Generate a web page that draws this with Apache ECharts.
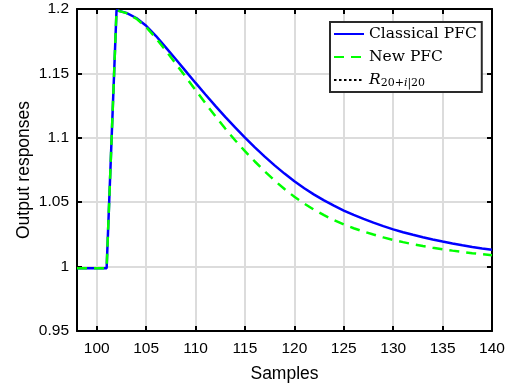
<!DOCTYPE html>
<html>
<head>
<meta charset="utf-8">
<script src="https://cdn.jsdelivr.net/npm/echarts@6/dist/echarts.min.js"></script>
<style>
html,body{margin:0;padding:0;background:#fff;}
#chart{width:507px;height:383px;}
</style>
</head>
<body>
<div id="chart"></div>
<script>
// ---- data ----
const samples = [98,99,100,101,102,103,104,105,106,107,108,109,110,111,112,113,114,115,116,117,118,119,120,121,122,123,124,125,126,127,128,129,130,131,132,133,134,135,136,137,138,139,140];
const classicalPFC = [0.9988,0.9988,0.9988,0.9988,1.1990,1.1970,1.1930,1.1870,1.1790,1.1700,1.1610,1.1518,1.1426,1.1336,1.1248,1.1163,1.1081,1.1002,1.0926,1.0854,1.0786,1.0722,1.0662,1.0608,1.0559,1.0514,1.0473,1.0435,1.0401,1.0370,1.0341,1.0314,1.0289,1.0267,1.0247,1.0228,1.0211,1.0195,1.0180,1.0166,1.0153,1.0141,1.0130];
const newPFC = [0.9988,0.9988,0.9988,0.9988,1.1990,1.1968,1.1925,1.1860,1.1773,1.1675,1.1575,1.1473,1.1370,1.1268,1.1168,1.1072,1.0981,1.0896,1.0816,1.0739,1.0668,1.0602,1.0542,1.0489,1.0441,1.0399,1.0361,1.0327,1.0298,1.0272,1.0249,1.0227,1.0207,1.0190,1.0174,1.0160,1.0147,1.0135,1.0124,1.0114,1.0104,1.0096,1.0088];
const reference = []; // R_{20+i|20} (not visible in plotted range)
const xTicks = [100,105,110,115,120,125,130,135,140];
const seriesNames = ['Classical PFC','New PFC','R'];

const pairs = (xs, ys) => xs.map((x, i) => [x, ys[i]]).filter(p => p[1] !== undefined);

const chart = echarts.init(document.getElementById('chart'), null, {renderer: 'canvas'});
const sansFont = 'Liberation Sans';
const serifFont = 'DejaVu Serif';
const axisLineStyle = {color: '#000', width: 2};
const tickStyle = {inside: true, length: 5, lineStyle: {color: '#000', width: 2}};

chart.setOption({
  backgroundColor: '#fff',
  animation: false,
  grid: {left: 77, right: 15, top: 9, bottom: 52, containLabel: false, outerBoundsMode: 'none'},
  xAxis: [{
    type: 'value', min: 98, max: 140, position: 'bottom',
    name: 'Samples', nameLocation: 'middle', nameGap: 34, nameMoveOverlap: false,
    nameTextStyle: {fontFamily: sansFont, fontSize: 17.5, color: '#000'},
    axisLine: {show: true, onZero: false, lineStyle: axisLineStyle},
    axisTick: Object.assign({customValues: xTicks}, tickStyle),
    axisLabel: {customValues: xTicks, margin: 10, fontFamily: sansFont, fontSize: 15.5, color: '#000'},
    splitLine: {show: true, lineStyle: {color: '#dcdcdc', width: 2}}
  }, {
    type: 'value', min: 98, max: 140, position: 'top',
    axisLine: {show: true, onZero: false, lineStyle: axisLineStyle},
    axisTick: Object.assign({customValues: xTicks}, tickStyle),
    axisLabel: {show: false},
    splitLine: {show: false}
  }],
  yAxis: [{
    type: 'value', min: 0.95, max: 1.2, interval: 0.05, position: 'left',
    name: 'Output responses', nameLocation: 'middle', nameGap: 44, nameMoveOverlap: false,
    nameTextStyle: {fontFamily: sansFont, fontSize: 17.5, color: '#000'},
    axisLine: {show: true, onZero: false, lineStyle: axisLineStyle},
    axisTick: tickStyle,
    axisLabel: {margin: 8, fontFamily: sansFont, fontSize: 15.5, color: '#000',
      formatter: v => String(parseFloat(v.toFixed(2)))},
    splitLine: {show: true, lineStyle: {color: '#dcdcdc', width: 2}}
  }, {
    type: 'value', min: 0.95, max: 1.2, interval: 0.05, position: 'right',
    axisLine: {show: true, onZero: false, lineStyle: axisLineStyle},
    axisTick: tickStyle,
    axisLabel: {show: false},
    splitLine: {show: false}
  }],
  legend: {
    orient: 'vertical', left: 330, top: 22,
    data: seriesNames,
    itemWidth: 30, itemHeight: 14, itemGap: 5,
    padding: [3, 5, 3, 3],
    itemStyle: {opacity: 0},
    backgroundColor: '#fff', borderColor: '#2a2a2a', borderWidth: 2, borderRadius: 0,
    formatter: name => name === 'R' ? '{r|R}{s|20+}{si|i}{s||20}' : name,
    textStyle: {
      fontFamily: serifFont, fontSize: 15.5, color: '#000', lineHeight: 18,
      rich: {
        r: {fontFamily: serifFont, fontSize: 15.5, fontStyle: 'italic', color: '#000', lineHeight: 18},
        s: {fontFamily: serifFont, fontSize: 11, color: '#000', lineHeight: 10, verticalAlign: 'bottom'},
        si: {fontFamily: serifFont, fontSize: 11, fontStyle: 'italic', color: '#000', lineHeight: 10, verticalAlign: 'bottom'}
      }
    }
  },
  series: [{
    name: 'Classical PFC', type: 'line', symbol: 'none', xAxisIndex: 0, yAxisIndex: 0,
    data: pairs(samples, classicalPFC),
    lineStyle: {color: '#0000ff', width: 2.5}, itemStyle: {color: '#0000ff'}
  }, {
    name: 'New PFC', type: 'line', symbol: 'none', xAxisIndex: 0, yAxisIndex: 0,
    data: pairs(samples, newPFC),
    lineStyle: {color: '#00ff00', width: 2.5, type: [10, 7]}, itemStyle: {color: '#00ff00'}
  }, {
    name: 'R', type: 'line', symbol: 'none', xAxisIndex: 0, yAxisIndex: 0,
    data: reference,
    lineStyle: {color: '#000', width: 3, type: [2.5, 2.5]}, itemStyle: {color: '#000'}
  }]
});
</script>
</body>
</html>
